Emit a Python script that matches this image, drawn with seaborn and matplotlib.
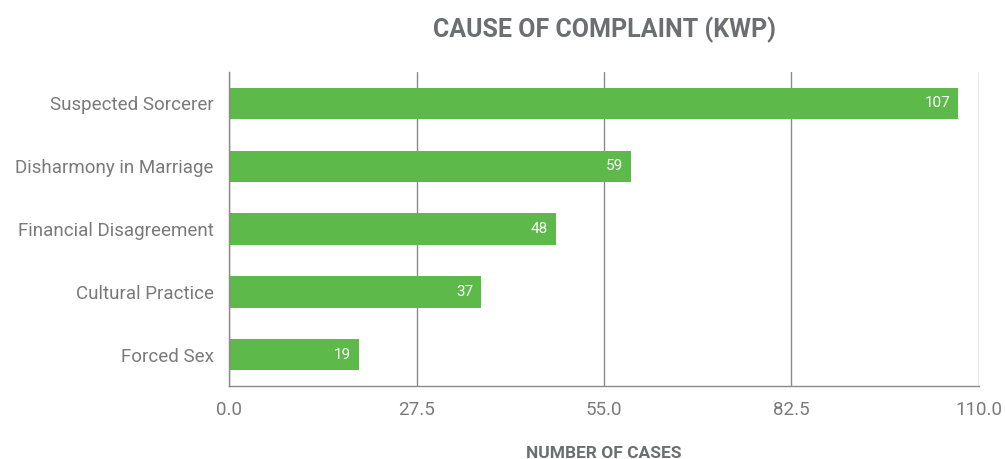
import pandas as pd
import numpy as np
import matplotlib.pyplot as plt
import seaborn as sns

# --- data ---
causes = ['Suspected Sorcerer', 'Disharmony in Marriage', 'Financial Disagreement',
          'Cultural Practice', 'Forced Sex']
cases = [107, 59, 48, 37, 19]
ticks = [0.0, 27.5, 55.0, 82.5, 110.0]

df = pd.DataFrame({'cause': causes, 'cases': cases})

sns.set_style('white')
plt.rcParams['font.family'] = ['Roboto', 'DejaVu Sans']

grey = '#6d6e71'
green = '#5cb94a'

fig = plt.figure(figsize=(10.05, 4.59), dpi=100)
ax = fig.add_axes([0.228, 0.159, 0.746, 0.684])

sns.barplot(data=df, x='cases', y='cause', color=green, saturation=1,
            width=0.5, linewidth=0, ax=ax, zorder=2)

ax.set_xlim(0, 110)
ax.set_ylim(4.5, -0.5)
ax.set_xticks(ticks)
ax.set_xticklabels([f'{t:.1f}' for t in ticks])
ax.xaxis.grid(True, color='#8a8a8a', linewidth=1, zorder=1)
ax.set_axisbelow(True)

for s in ['top', 'right']:
    ax.spines[s].set_visible(False)
for s in ['left', 'bottom']:
    ax.spines[s].set_color('#8a8a8a')
    ax.spines[s].set_linewidth(1)
    ax.spines[s].set_zorder(5)

ax.tick_params(axis='both', length=0, labelsize=13.5, labelcolor='#7a7a7a', pad=11)

# value labels inside bar ends
for i, v in enumerate(cases):
    ax.text(v - 1.2, i, str(v), ha='right', va='center', color='white',
            fontsize=11, zorder=4)

ax.set_ylabel('')
ax.set_xlabel('NUMBER OF CASES', fontsize=12.5, fontweight='bold', color=grey, labelpad=19)
fig.text(0.601, 0.935, 'CAUSE OF COMPLAINT (KWP)', ha='center', va='center',
         fontsize=18, fontweight='bold', color=grey)

plt.savefig('out.png', dpi=100)
